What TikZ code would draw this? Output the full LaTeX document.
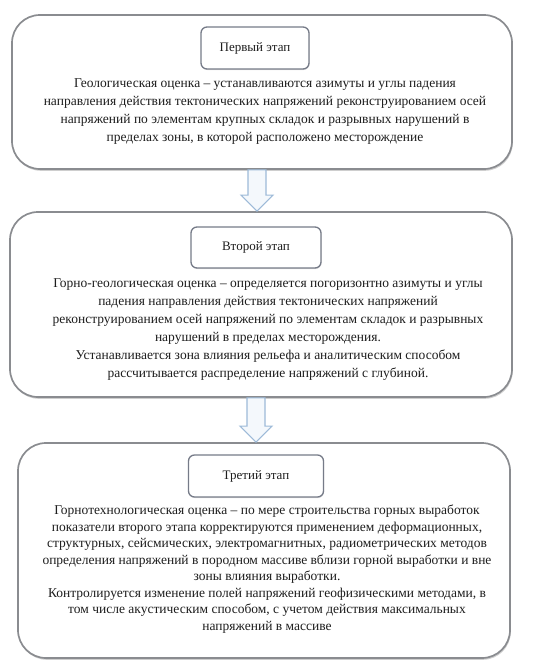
\documentclass[tikz,border=0pt]{standalone}
\usepackage{fontspec}
\setmainfont{Liberation Serif}
\usetikzlibrary{shadows,calc}
\definecolor{boxline}{HTML}{8A8C90}
\definecolor{titleline}{HTML}{767B88}
\definecolor{arrowline}{HTML}{9DBAD8}
\definecolor{arrowfill}{HTML}{F4F8FC}
\definecolor{textcol}{HTML}{1E1E1E}
\begin{document}
\begin{tikzpicture}[x=1pt,y=-1pt,
  stagebox/.style={draw=boxline, line width=1.7pt, rounded corners=28pt, fill=white, inner sep=0,
    drop shadow={shadow xshift=0.8pt, shadow yshift=-1.8pt, opacity=0.35, fill=black!55}},
  titlebox/.style={draw=titleline, line width=1.3pt, rounded corners=6pt, fill=white, inner sep=0,
    font=\fontsize{13}{15}\selectfont, text=textcol,
    drop shadow={shadow xshift=0.5pt, shadow yshift=-1pt, opacity=0.25, fill=black!50}},
  bodytext/.style={align=center, inner sep=0, text=textcol},
  flowarrow/.style={draw=arrowline, fill=arrowfill, line width=1.1pt, line join=miter}]
\useasboundingbox (0,0) rectangle (558,664);

% stage boxes
\node[stagebox, minimum width=500pt, minimum height=154pt] (s1) at (262,92) {};
\node[stagebox, minimum width=502pt, minimum height=185pt] (s2) at (261,304.5) {};
\node[stagebox, minimum width=492pt, minimum height=215pt] (s3) at (264,550.5) {};

% titles
\node[titlebox, minimum width=108pt, minimum height=42pt] (t1) at (255,48) {Первый этап};
\node[titlebox, minimum width=130pt, minimum height=41pt] (t2) at (256,247.5) {Второй этап};
\node[titlebox, minimum width=135pt, minimum height=42pt] (t3) at (256,476) {Третий этап};

% body texts
\node[bodytext, font=\fontsize{13.5}{18}\selectfont] (b1) at (265,112) {Геологическая оценка – устанавливаются азимуты и углы падения\\
направления действия тектонических напряжений реконструированием осей\\
напряжений по элементам крупных складок и разрывных нарушений в\\
пределах зоны, в которой расположено месторождение};

\node[bodytext, font=\fontsize{13.5}{18}\selectfont] (b2) at (268,330) {Горно-геологическая оценка – определяется погоризонтно азимуты и углы\\
падения направления действия тектонических напряжений\\
реконструированием осей напряжений по элементам складок и разрывных\\
нарушений в пределах месторождения.\\
Устанавливается зона влияния рельефа и аналитическим способом\\
рассчитывается распределение напряжений с глубиной.};

\node[bodytext, font=\fontsize{13.5}{16.5}\selectfont] (b3) at (267,569) {Горнотехнологическая оценка – по мере строительства горных выработок\\
показатели второго этапа корректируются применением деформационных,\\
структурных, сейсмических, электромагнитных, радиометрических методов\\
определения напряжений в породном массиве вблизи горной выработки и вне\\
зоны влияния выработки.\\
Контролируется изменение полей напряжений геофизическими методами, в\\
том числе акустическим способом, с учетом действия максимальных\\
напряжений в массиве};

% block arrows between stages
\draw[flowarrow] let \p1=(t1 |- s1.south), \p2=(t1 |- s2.north) in
  (\x1-9pt+2pt,\y1) -- (\x1-9pt+2pt,\y2+16pt) -- (\x1-16pt+2pt,\y2+16pt) -- (\x1+2pt,\y2)
  -- (\x1+16pt+2pt,\y2+16pt) -- (\x1+9pt+2pt,\y2+16pt) -- (\x1+9pt+2pt,\y1) -- cycle;
\draw[flowarrow] let \p1=(t3 |- s2.south), \p2=(t3 |- s3.north) in
  (\x1-9pt,\y1) -- (\x1-9pt,\y2+16pt) -- (\x1-16pt,\y2+16pt) -- (\x1,\y2)
  -- (\x1+16pt,\y2+16pt) -- (\x1+9pt,\y2+16pt) -- (\x1+9pt,\y1) -- cycle;
\end{tikzpicture}
\end{document}
